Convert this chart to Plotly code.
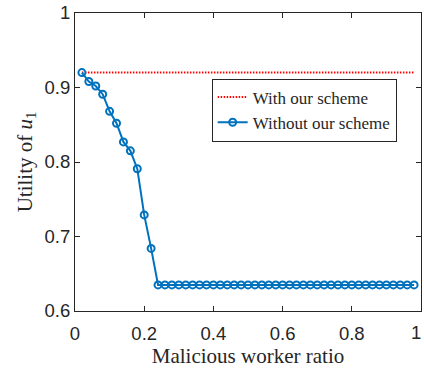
import plotly.graph_objects as go

ratio = [round(0.02 * i, 2) for i in range(1, 50)]
without_head = [0.920, 0.908, 0.902, 0.891, 0.868, 0.852, 0.827, 0.815, 0.791, 0.729, 0.684, 0.635]
without_tail = [0.635] * (len(ratio) - len(without_head))
without_scheme = without_head + without_tail
with_scheme = [0.920] * len(ratio)

x_ticks = [0, 0.2, 0.4, 0.6, 0.8, 1]
x_tick_text = ["0", "0.2", "0.4", "0.6", "0.8", "1"]
y_ticks = [0.6, 0.7, 0.8, 0.9, 1]
y_tick_text = ["0.6", "0.7", "0.8", "0.9", "1"]

BLUE = "#0072BD"
RED = "#FF0000"
AX = "#262626"
SERIF = "Liberation Serif, Times New Roman, serif"
SANS = "Liberation Sans, Arial, Helvetica, sans-serif"
TICK_SIZE = 18.5

fig = go.Figure()
fig.add_trace(go.Scatter(
    x=ratio, y=with_scheme, mode="lines",
    name="With our scheme",
    line=dict(color=RED, width=2, dash="1.5px,1.5px"),
))
fig.add_trace(go.Scatter(
    x=ratio, y=without_scheme, mode="lines+markers",
    name="Without our scheme",
    line=dict(color=BLUE, width=2),
    marker=dict(symbol="circle-open", size=7, color=BLUE, line=dict(width=2, color=BLUE)),
))

# last x tick label sits on the figure edge: draw it as an annotation nudged inside the page
fig.add_annotation(
    x=x_ticks[-1], y=0, xref="x", yref="paper",
    text=x_tick_text[-1], showarrow=False,
    xanchor="center", yanchor="top", yshift=-9, xshift=-5,
    font=dict(family=SANS, size=TICK_SIZE, color=AX),
)

fig.update_layout(
    width=424, height=371,
    margin=dict(l=75, r=2, t=6, b=60),
    paper_bgcolor="white", plot_bgcolor="white",
    showlegend=True,
    legend=dict(
        x=0.395, y=0.78, xanchor="left", yanchor="top",
        bgcolor="white", bordercolor=AX, borderwidth=1,
        font=dict(family=SERIF, size=17, color=AX),
        tracegroupgap=0, itemwidth=30,
    ),
    xaxis=dict(
        range=[0, 1], tickvals=x_ticks[:-1], ticktext=x_tick_text[:-1],
        showline=True, linecolor=AX, linewidth=1, mirror="allticks",
        ticks="inside", ticklen=5, tickcolor=AX,
        showgrid=False, zeroline=False, ticklabeloverflow="allow",
        ticklabelstandoff=6,
        tickfont=dict(family=SANS, size=TICK_SIZE, color=AX),
        title=dict(text="Malicious worker ratio", font=dict(family=SERIF, size=21, color=AX), standoff=3),
    ),
    yaxis=dict(
        range=[0.6, 1], tickvals=y_ticks, ticktext=y_tick_text,
        showline=True, linecolor=AX, linewidth=1, mirror="allticks",
        ticks="inside", ticklen=5, tickcolor=AX,
        showgrid=False, zeroline=False, ticklabeloverflow="allow",
        tickfont=dict(family=SANS, size=TICK_SIZE, color=AX),
        title=dict(text="Utility of <i>u</i><sub>1</sub>", font=dict(family=SERIF, size=21, color=AX), standoff=6),
    ),
)

fig.write_html("out.html")
